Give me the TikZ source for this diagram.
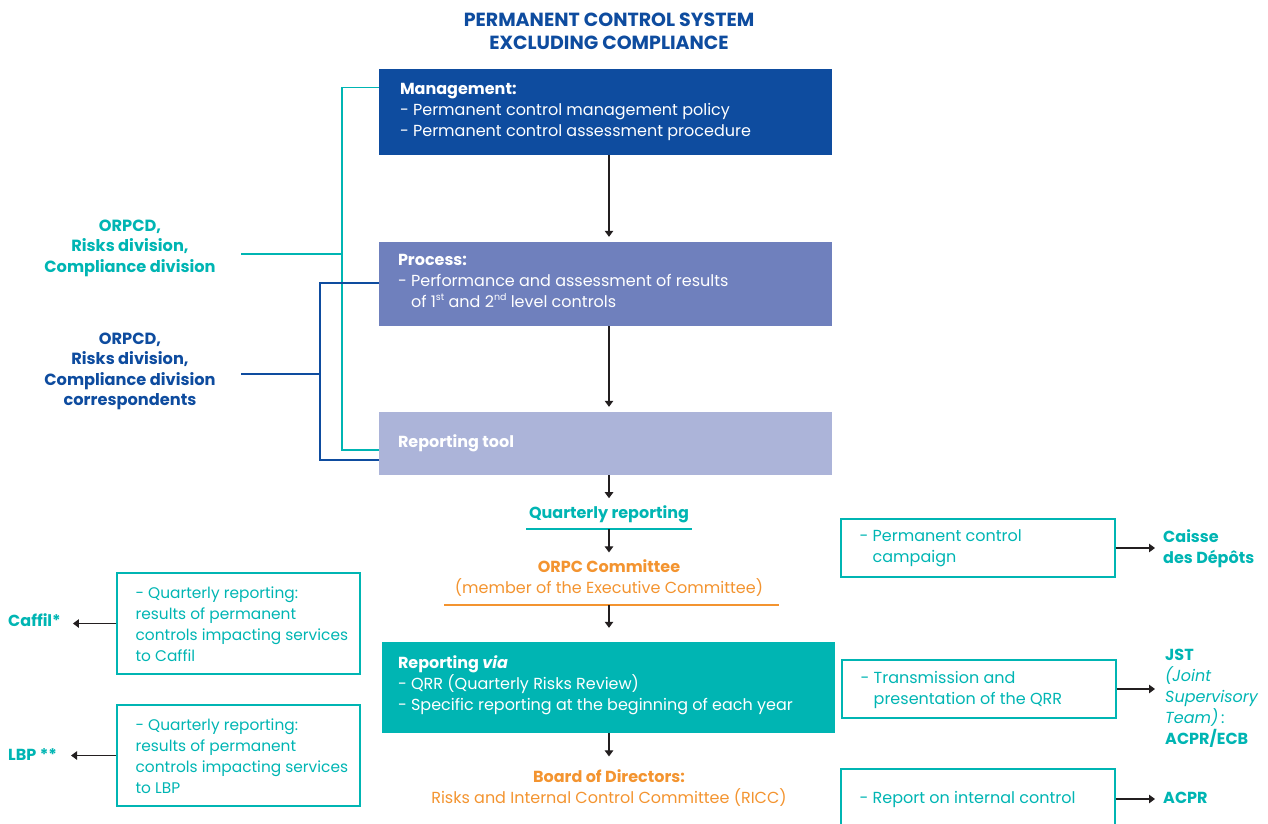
\documentclass[tikz,border=0pt]{standalone}
\usepackage{fontspec}
\setmainfont{Poppins}
\usetikzlibrary{arrows.meta}
\definecolor{dblue}{HTML}{0E4C9F}
\definecolor{mblue}{HTML}{6F80BD}
\definecolor{lblue}{HTML}{ACB4D9}
\definecolor{tealc}{HTML}{00B5B3}
\definecolor{orng}{HTML}{F39430}
\definecolor{arr}{HTML}{231F20}
\newcommand{\supr}[1]{\raisebox{0.42em}{\fontsize{9.5}{9.5}\selectfont #1}}
\begin{document}
\begin{tikzpicture}[x=1pt,y=-1pt,
  txt/.style={font=\fontsize{16}{21}\selectfont, inner sep=0pt},
  boxshape/.style={draw=none, minimum width=453pt, inner sep=0pt},
  intext/.style={txt, anchor=west, align=left, text=white},
  obox/.style={draw=tealc, line width=1.2pt, inner sep=0pt, minimum width=274pt},
  lbox/.style={draw=tealc, line width=1.2pt, inner sep=0pt, minimum width=243pt, minimum height=101pt},
  otext/.style={txt, anchor=west, align=left, text=tealc},
  lab/.style={txt, align=center, font=\fontsize{16.2}{20.5}\selectfont\bfseries},
  arrow/.style={draw=arr, line width=1.1pt, -{Triangle[width=8.5pt,length=6pt]}},
  tline/.style={draw=tealc, line width=1.2pt},
  bline/.style={draw=dblue, line width=1.2pt},
  oline/.style={draw=orng, line width=1.2pt}
]
\useasboundingbox (0,0) rectangle (1268,823);

% title
\node[txt, align=center, text=dblue, font=\fontsize{19}{23}\selectfont\bfseries] (title) at (609,31.5)
  {PERMANENT CONTROL SYSTEM\\EXCLUDING COMPLIANCE};

% main column boxes
\node[boxshape, fill=dblue, minimum height=86pt] (mgmt) at (605.5,112) {};
\node[intext] (mgmtT) at ([xshift=21pt]mgmt.west)
  {\textbf{Management:}\\- Permanent control management policy\\- Permanent control assessment procedure};

\node[boxshape, fill=mblue, minimum height=84pt] (proc) at (605.5,284) {};
\node[intext] (procT) at ([xshift=19pt,yshift=3pt]proc.west)
  {\textbf{Process:}\\- Performance and assessment of results\\\phantom{- }of 1\supr{st} and 2\supr{nd} level controls};

\node[boxshape, fill=lblue, minimum height=63pt] (tool) at (605.5,443.5) {};
\node[intext] (toolT) at ([xshift=19pt]tool.west) {\textbf{Reporting tool}};

\node[txt, text=tealc, font=\fontsize{16}{21}\selectfont\bfseries] (qr) at (609,514) {Quarterly reporting};
\draw[tline] (526,529) coordinate (qrl) -- (692,529) coordinate (qrr);
\coordinate (qu) at (609,529);

\node[txt, align=center, text=orng] (orpc) at (609,578)
  {\textbf{ORPC Committee}\\(member of the Executive Committee)};
\draw[oline] (444,605) coordinate (orl) -- (779,605) coordinate (orr);
\coordinate (ou) at (609,605);

\node[boxshape, fill=tealc, minimum height=91pt] (via) at (608.5,687.5) {};
\node[intext] (viaT) at ([xshift=16pt,yshift=2pt]via.west)
  {\textbf{Reporting \textit{via}}\\- QRR (Quarterly Risks Review)\\- Specific reporting at the beginning of each year};

\node[txt, align=center, text=orng] (board) at (609,788)
  {\textbf{Board of Directors:}\\Risks and Internal Control Committee (RICC)};

% vertical arrows
\draw[arrow, shorten >=5pt] (mgmt.south -| qr.center) -- (proc.north -| qr.center);
\draw[arrow, shorten >=5pt] (proc.south -| qr.center) -- (tool.north -| qr.center);
\draw[arrow, shorten >=7pt] (tool.south -| qr.center) -- (qr.north);
\draw[arrow, shorten >=7pt] (qu) -- (orpc.north);
\draw[arrow, shorten >=14pt] (ou) -- (via.north -| ou);
\draw[arrow, shorten >=13pt] (via.south -| ou) -- (board.north);

% left labels and brackets
\node[lab, text=tealc] (lab1) at (130,248) {ORPCD,\\Risks division,\\Compliance division};
\node[lab, text=dblue] (lab2) at (130,371.5) {ORPCD,\\Risks division,\\Compliance division\\correspondents};
\coordinate (b1) at (241,254);
\coordinate (tb) at (342,254);
\coordinate (b2) at (241,374);
\coordinate (bb) at (320,374);
\draw[tline] (b1) -- (tb);
\draw[tline] ([yshift=-19pt]mgmt.north west) -| (tb) |- ([yshift=-6.5pt]tool.west);
\draw[bline] (b2) -- (bb);
\draw[bline] ([yshift=1pt]proc.west) -| (bb) |- ([yshift=-16.5pt]tool.west);

% right boxes
\node[obox, minimum height=58pt] (r1) at (978,548) {};
\node[otext] (r1T) at ([xshift=19pt]r1.west) {- Permanent control\\\phantom{- }campaign};
\node[obox, minimum height=58pt] (r2) at (979,689) {};
\node[otext] (r2T) at ([xshift=19pt,yshift=-1pt]r2.west) {- Transmission and\\\phantom{- }presentation of the QRR};
\node[obox, minimum height=60pt] (r3) at (978,799) {};
\node[otext] (r3T) at ([xshift=19pt]r3.west) {- Report on internal control};

\node[otext, font=\fontsize{16}{21}\selectfont\bfseries] (cdc) at (1163,548.5) {Caisse\\des Dépôts};
\node[otext] (jst) at (1165,698) {\textbf{JST}\\\textit{(Joint}\\\textit{Supervisory}\\\textit{Team)}\,:\\\textbf{ACPR/ECB}};
\node[otext, font=\fontsize{16}{21}\selectfont\bfseries] (acpr) at (1163,798) {ACPR};

\draw[arrow, shorten >=8pt] (r1.east) -- (r1.east -| cdc.west);
\draw[arrow, shorten >=10pt] (r2.east) -- (r2.east -| jst.west);
\draw[arrow, shorten >=8pt] (r3.east) -- (r3.east -| acpr.west);

% left boxes
\node[lbox] (l1) at (238.5,623.5) {};
\node[otext, font=\fontsize{15.4}{21}\selectfont] (l1T) at ([xshift=19pt,yshift=-1pt]l1.west)
  {- Quarterly reporting:\\results of permanent\\controls impacting services\\to Caffil};
\node[lbox] (l2) at (238.5,755.5) {};
\node[otext, font=\fontsize{15.4}{21}\selectfont] (l2T) at ([xshift=19pt,yshift=-1pt]l2.west)
  {- Quarterly reporting:\\results of permanent\\controls impacting services\\to LBP};

\node[otext, font=\fontsize{16}{21}\selectfont\bfseries] (caffil) at (8,620) {Caffil*};
\node[otext, font=\fontsize{16}{21}\selectfont\bfseries] (lbp) at (8,755) {LBP **};

\draw[arrow] (l1.west) -- ([xshift=12pt]caffil.east |- l1.west);
\draw[arrow] (l2.west) -- ([xshift=14pt]lbp.east |- l2.west);
\end{tikzpicture}
\end{document}
